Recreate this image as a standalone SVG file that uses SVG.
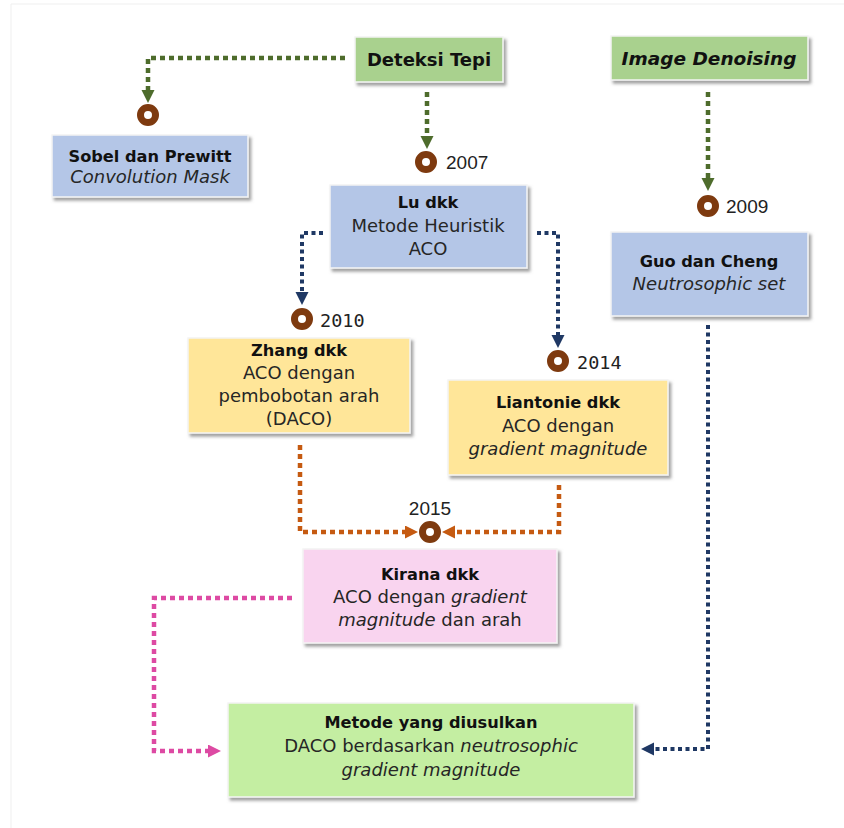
<svg xmlns="http://www.w3.org/2000/svg" width="844" height="828" viewBox="0 0 844 828">
<style>
  .t { font-family: "DejaVu Sans", "Liberation Sans", sans-serif; font-size: 18px; fill: #262626; text-anchor: middle; }
  .b { font-weight: bold; font-size: 16.2px; fill: #111; }
  .i { font-style: italic; }
  .yr { font-family: "Liberation Sans", Arial, sans-serif; font-size: 19px; fill: #222; }
  .mono { font-family: "DejaVu Sans Mono", monospace; font-size: 18.5px; fill: #222; }
  .box { stroke: #f4f4f4; stroke-width: 1.5; filter: url(#sh); }
  .blue { fill: #b4c6e7; }
  .green { fill: #a9d18e; }
  .lgreen { fill: #c4eea2; }
  .yellow { fill: #ffe699; }
  .pink { fill: #f9d4ef; }
  .ring { fill: #fff; stroke: #7e3a0f; stroke-width: 7; }
  .c { fill: none; stroke-linejoin: miter; }
  .cg { stroke: #4e6c2c; stroke-width: 4.5; stroke-dasharray: 5 4; }
  .cb { stroke: #1f3864; stroke-width: 4; stroke-dasharray: 4 3.5; }
  .co { stroke: #c55a11; stroke-width: 4.5; stroke-dasharray: 5 4; }
  .cp { stroke: #dd4aa3; stroke-width: 4.5; stroke-dasharray: 5 4; }
</style>
<defs>
  <filter id="sh" x="-10%" y="-10%" width="130%" height="140%">
    <feDropShadow dx="2.5" dy="3" stdDeviation="1.5" flood-color="#7a7a7a" flood-opacity="0.7"/>
  </filter>
  <marker id="ag" markerUnits="userSpaceOnUse" markerWidth="14" markerHeight="14" refX="6" refY="6.5" orient="auto"><path d="M0,0 L13,6.5 L0,13 z" fill="#4e6c2c"/></marker>
  <marker id="ab" markerUnits="userSpaceOnUse" markerWidth="14" markerHeight="14" refX="6" refY="6.5" orient="auto"><path d="M0,0 L13,6.5 L0,13 z" fill="#1f3864"/></marker>
  <marker id="ao" markerUnits="userSpaceOnUse" markerWidth="14" markerHeight="14" refX="6" refY="6.5" orient="auto"><path d="M0,0 L13,6.5 L0,13 z" fill="#c55a11"/></marker>
  <marker id="ap" markerUnits="userSpaceOnUse" markerWidth="14" markerHeight="14" refX="6" refY="6.5" orient="auto"><path d="M0,0 L13,6.5 L0,13 z" fill="#dd4aa3"/></marker>
</defs>
<rect width="844" height="828" fill="#fff"/>
<path d="M11,828 V4 H844" fill="none" stroke="#efefef" stroke-width="1"/>

<g id="connectors">
  <path class="c cg" d="M345,58 H148 V96" marker-end="url(#ag)"/>
  <path class="c cg" d="M427,92 V142" marker-end="url(#ag)"/>
  <path class="c cg" d="M708,92 V184" marker-end="url(#ag)"/>
  <path class="c cb" d="M323,233 H302 V298" marker-end="url(#ab)"/>
  <path class="c cb" d="M537,233 H558 V341" marker-end="url(#ab)"/>
  <path class="c cb" d="M708,325 V749 H648" marker-end="url(#ab)"/>
  <path class="c co" d="M300,445 V532 H411" marker-end="url(#ao)"/>
  <path class="c co" d="M559,485 V532 H449" marker-end="url(#ao)"/>
  <path class="c cp" d="M292,598 H154 V751 H214" marker-end="url(#ap)"/>
</g>

<g id="deteksi-tepi">
  <rect class="box green" x="355" y="37" width="148" height="45"/>
  <text class="t b" x="429" y="66" style="font-size:18px">Deteksi Tepi</text>
</g>
<g id="image-denoising">
  <rect class="box green" x="611" y="36" width="197" height="44"/>
  <text class="t b i" x="709" y="65" style="font-size:18.5px">Image Denoising</text>
</g>
<g id="sobel">
  <rect class="box blue" x="52" y="135" width="196" height="62"/>
  <text class="t b" x="150" y="162">Sobel dan Prewitt</text>
  <text class="t i" x="150" y="183">Convolution Mask</text>
  <circle class="ring" cx="148" cy="115" r="7.5"/>
</g>
<g id="lu">
  <rect class="box blue" x="330" y="185" width="197" height="83"/>
  <text class="t b" x="428" y="208">Lu dkk</text>
  <text class="t" x="428" y="232">Metode Heuristik</text>
  <text class="t" x="428" y="255">ACO</text>
  <circle class="ring" cx="426" cy="162" r="7.5"/>
  <text class="yr" x="446" y="169">2007</text>
</g>
<g id="guo">
  <rect class="box blue" x="611" y="232" width="197" height="84"/>
  <text class="t b" x="709" y="267">Guo dan Cheng</text>
  <text class="t i" x="709" y="290">Neutrosophic set</text>
  <circle class="ring" cx="708" cy="206" r="7.5"/>
  <text class="yr" x="726" y="213">2009</text>
</g>
<g id="zhang">
  <rect class="box yellow" x="188" y="338" width="222" height="95"/>
  <text class="t b" x="299" y="356">Zhang dkk</text>
  <text class="t" x="299" y="379">ACO dengan</text>
  <text class="t" x="299" y="402">pembobotan arah</text>
  <text class="t" x="299" y="425">(DACO)</text>
  <circle class="ring" cx="302" cy="319" r="7.5"/>
  <text class="mono" x="320" y="327">2010</text>
</g>
<g id="liantonie">
  <rect class="box yellow" x="448" y="380" width="220" height="95"/>
  <text class="t b" x="558" y="408">Liantonie dkk</text>
  <text class="t" x="558" y="432">ACO dengan</text>
  <text class="t i" x="558" y="455">gradient magnitude</text>
  <circle class="ring" cx="558" cy="361" r="7.5"/>
  <text class="mono" x="577" y="369">2014</text>
</g>
<g id="kirana">
  <rect class="box pink" x="303" y="549" width="254" height="94"/>
  <text class="t b" x="430" y="580">Kirana dkk</text>
  <text class="t" x="430" y="603">ACO dengan <tspan class="i">gradient</tspan></text>
  <text class="t" x="430" y="626"><tspan class="i">magnitude</tspan> dan arah</text>
  <circle class="ring" cx="430" cy="532" r="7.5"/>
  <text class="yr" x="430" y="515" text-anchor="middle">2015</text>
</g>
<g id="metode">
  <rect class="box lgreen" x="228" y="703" width="406" height="94"/>
  <text class="t b" x="431" y="728">Metode yang diusulkan</text>
  <text class="t" x="431" y="752">DACO berdasarkan <tspan class="i">neutrosophic</tspan></text>
  <text class="t i" x="431" y="776">gradient magnitude</text>
</g>
</svg>
